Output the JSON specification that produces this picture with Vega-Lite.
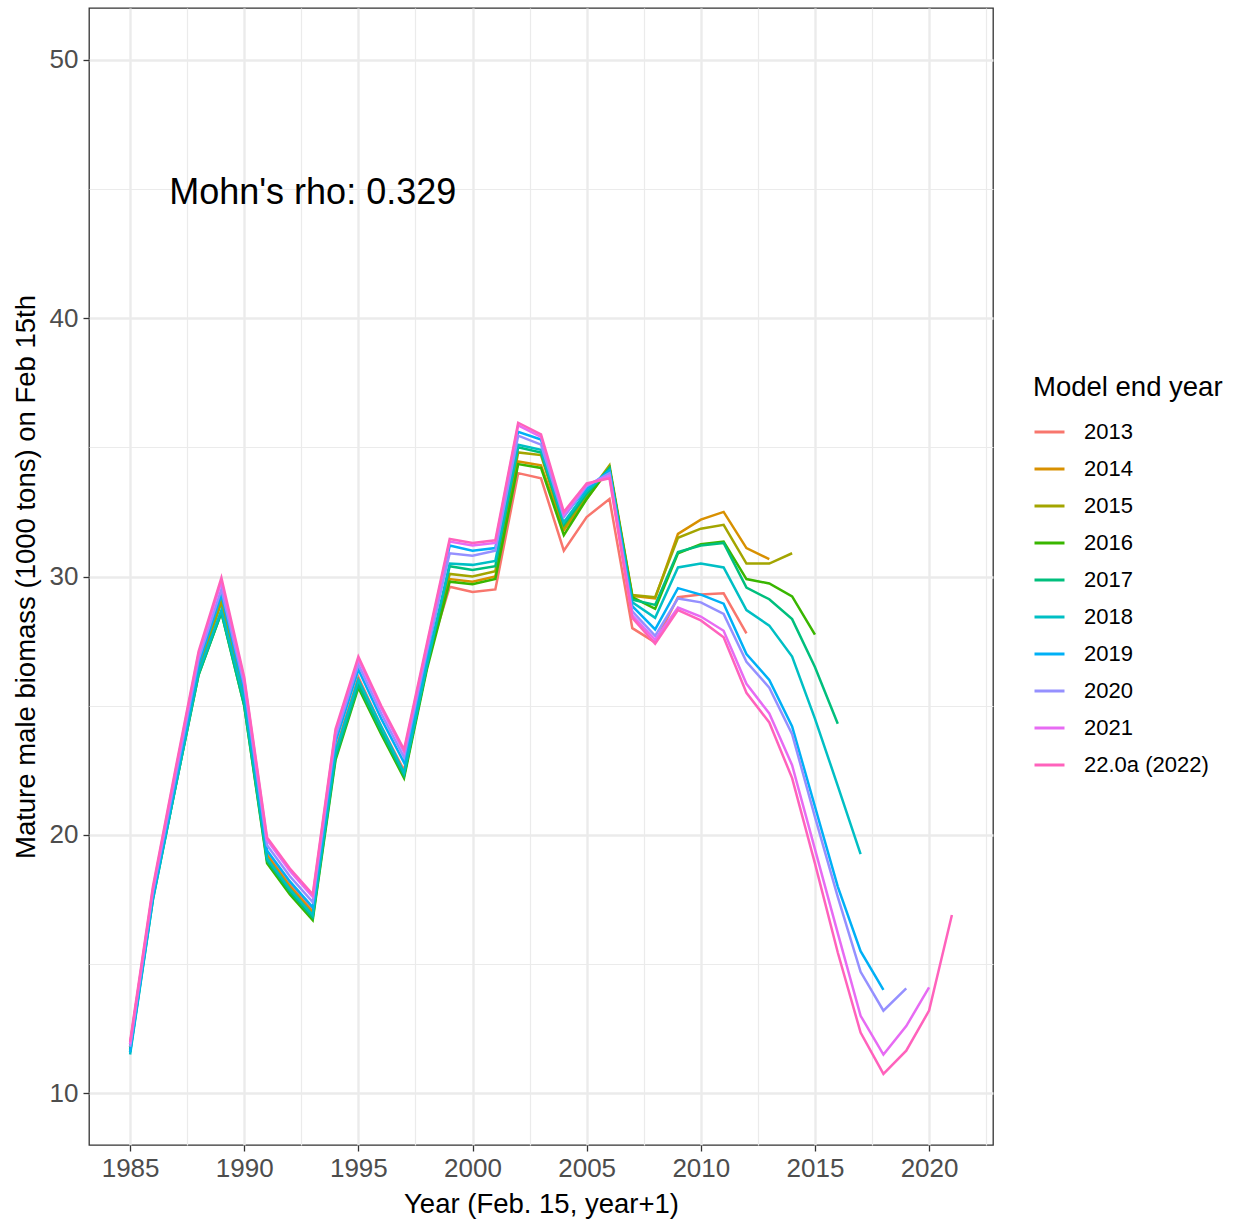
{
  "$schema": "https://vega.github.io/schema/vega-lite/v6.json",
  "width": 904,
  "height": 1137,
  "autosize": {"type": "none"},
  "padding": {"left": 89, "top": 8, "right": 245, "bottom": 76},
  "background": "white",
  "config": {
    "font": "Liberation Sans",
    "view": {"stroke": "#333333", "strokeWidth": 1.3},
    "axis": {
      "domain": false,
      "tickColor": "#333333",
      "tickWidth": 1.3,
      "tickSize": 6,
      "labelColor": "#4D4D4D",
      "labelFont": "Liberation Sans",
      "labelFontSize": 26,
      "titleFont": "Liberation Sans",
      "titleFontSize": 27.5,
      "titleFontWeight": "normal",
      "titleColor": "#000000",
      "gridColor": "#EBEBEB",
      "labelOverlap": false,
      "labelFlush": false
    },
    "legend": {
      "titleFont": "Liberation Sans",
      "labelFont": "Liberation Sans"
    }
  },
  "datasets": {
    "series": [
      {"m":"2013","yr":1985,"b":11.9},{"m":"2013","yr":1986,"b":17.8},{"m":"2013","yr":1987,"b":22.2},{"m":"2013","yr":1988,"b":26.6},{"m":"2013","yr":1989,"b":29.2},{"m":"2013","yr":1990,"b":25.5},{"m":"2013","yr":1991,"b":19.3},{"m":"2013","yr":1992,"b":18.1},{"m":"2013","yr":1993,"b":17.1},{"m":"2013","yr":1994,"b":23.3},{"m":"2013","yr":1995,"b":26.1},{"m":"2013","yr":1996,"b":24.2},{"m":"2013","yr":1997,"b":22.5},{"m":"2013","yr":1998,"b":26.7},{"m":"2013","yr":1999,"b":29.6},{"m":"2013","yr":2000,"b":29.4},{"m":"2013","yr":2001,"b":29.5},{"m":"2013","yr":2002,"b":34.0},{"m":"2013","yr":2003,"b":33.8},{"m":"2013","yr":2004,"b":31.0},{"m":"2013","yr":2005,"b":32.3},{"m":"2013","yr":2006,"b":33.0},{"m":"2013","yr":2007,"b":28.0},{"m":"2013","yr":2008,"b":27.45},{"m":"2013","yr":2009,"b":29.2},{"m":"2013","yr":2010,"b":29.3},{"m":"2013","yr":2011,"b":29.35},{"m":"2013","yr":2012,"b":27.8},
      {"m":"2014","yr":1985,"b":11.8},{"m":"2014","yr":1986,"b":17.7},{"m":"2014","yr":1987,"b":22.1},{"m":"2014","yr":1988,"b":26.5},{"m":"2014","yr":1989,"b":29.1},{"m":"2014","yr":1990,"b":25.4},{"m":"2014","yr":1991,"b":19.2},{"m":"2014","yr":1992,"b":18.0},{"m":"2014","yr":1993,"b":17.0},{"m":"2014","yr":1994,"b":23.2},{"m":"2014","yr":1995,"b":26.0},{"m":"2014","yr":1996,"b":24.1},{"m":"2014","yr":1997,"b":22.4},{"m":"2014","yr":1998,"b":26.6},{"m":"2014","yr":1999,"b":29.9},{"m":"2014","yr":2000,"b":29.8},{"m":"2014","yr":2001,"b":30.0},{"m":"2014","yr":2002,"b":34.45},{"m":"2014","yr":2003,"b":34.3},{"m":"2014","yr":2004,"b":31.8},{"m":"2014","yr":2005,"b":33.0},{"m":"2014","yr":2006,"b":34.2},{"m":"2014","yr":2007,"b":29.25},{"m":"2014","yr":2008,"b":29.15},{"m":"2014","yr":2009,"b":31.65},{"m":"2014","yr":2010,"b":32.2},{"m":"2014","yr":2011,"b":32.5},{"m":"2014","yr":2012,"b":31.1},{"m":"2014","yr":2013,"b":30.67},
      {"m":"2015","yr":1985,"b":11.8},{"m":"2015","yr":1986,"b":17.7},{"m":"2015","yr":1987,"b":22.0},{"m":"2015","yr":1988,"b":26.4},{"m":"2015","yr":1989,"b":29.0},{"m":"2015","yr":1990,"b":25.3},{"m":"2015","yr":1991,"b":19.1},{"m":"2015","yr":1992,"b":17.9},{"m":"2015","yr":1993,"b":16.9},{"m":"2015","yr":1994,"b":23.1},{"m":"2015","yr":1995,"b":25.9},{"m":"2015","yr":1996,"b":24.0},{"m":"2015","yr":1997,"b":22.3},{"m":"2015","yr":1998,"b":26.5},{"m":"2015","yr":1999,"b":30.1},{"m":"2015","yr":2000,"b":30.0},{"m":"2015","yr":2001,"b":30.2},{"m":"2015","yr":2002,"b":34.8},{"m":"2015","yr":2003,"b":34.7},{"m":"2015","yr":2004,"b":31.9},{"m":"2015","yr":2005,"b":33.1},{"m":"2015","yr":2006,"b":34.3},{"m":"2015","yr":2007,"b":29.28},{"m":"2015","yr":2008,"b":29.2},{"m":"2015","yr":2009,"b":31.5},{"m":"2015","yr":2010,"b":31.85},{"m":"2015","yr":2011,"b":32.0},{"m":"2015","yr":2012,"b":30.5},{"m":"2015","yr":2013,"b":30.5},{"m":"2015","yr":2014,"b":30.9},
      {"m":"2016","yr":1985,"b":11.7},{"m":"2016","yr":1986,"b":17.6},{"m":"2016","yr":1987,"b":21.9},{"m":"2016","yr":1988,"b":26.2},{"m":"2016","yr":1989,"b":28.6},{"m":"2016","yr":1990,"b":25.0},{"m":"2016","yr":1991,"b":18.9},{"m":"2016","yr":1992,"b":17.7},{"m":"2016","yr":1993,"b":16.7},{"m":"2016","yr":1994,"b":22.9},{"m":"2016","yr":1995,"b":25.7},{"m":"2016","yr":1996,"b":23.9},{"m":"2016","yr":1997,"b":22.2},{"m":"2016","yr":1998,"b":26.4},{"m":"2016","yr":1999,"b":29.8},{"m":"2016","yr":2000,"b":29.7},{"m":"2016","yr":2001,"b":29.9},{"m":"2016","yr":2002,"b":34.35},{"m":"2016","yr":2003,"b":34.2},{"m":"2016","yr":2004,"b":31.6},{"m":"2016","yr":2005,"b":33.0},{"m":"2016","yr":2006,"b":34.2},{"m":"2016","yr":2007,"b":29.2},{"m":"2016","yr":2008,"b":28.75},{"m":"2016","yr":2009,"b":30.9},{"m":"2016","yr":2010,"b":31.25},{"m":"2016","yr":2011,"b":31.35},{"m":"2016","yr":2012,"b":29.9},{"m":"2016","yr":2013,"b":29.73},{"m":"2016","yr":2014,"b":29.23},{"m":"2016","yr":2015,"b":27.75},
      {"m":"2017","yr":1985,"b":11.6},{"m":"2017","yr":1986,"b":17.5},{"m":"2017","yr":1987,"b":21.9},{"m":"2017","yr":1988,"b":26.2},{"m":"2017","yr":1989,"b":28.6},{"m":"2017","yr":1990,"b":25.0},{"m":"2017","yr":1991,"b":19.0},{"m":"2017","yr":1992,"b":17.8},{"m":"2017","yr":1993,"b":16.8},{"m":"2017","yr":1994,"b":23.0},{"m":"2017","yr":1995,"b":25.8},{"m":"2017","yr":1996,"b":24.0},{"m":"2017","yr":1997,"b":22.3},{"m":"2017","yr":1998,"b":26.5},{"m":"2017","yr":1999,"b":30.4},{"m":"2017","yr":2000,"b":30.25},{"m":"2017","yr":2001,"b":30.4},{"m":"2017","yr":2002,"b":35.0},{"m":"2017","yr":2003,"b":34.8},{"m":"2017","yr":2004,"b":32.0},{"m":"2017","yr":2005,"b":33.2},{"m":"2017","yr":2006,"b":34.2},{"m":"2017","yr":2007,"b":29.1},{"m":"2017","yr":2008,"b":28.9},{"m":"2017","yr":2009,"b":30.95},{"m":"2017","yr":2010,"b":31.2},{"m":"2017","yr":2011,"b":31.3},{"m":"2017","yr":2012,"b":29.57},{"m":"2017","yr":2013,"b":29.12},{"m":"2017","yr":2014,"b":28.35},{"m":"2017","yr":2015,"b":26.5},{"m":"2017","yr":2016,"b":24.3},
      {"m":"2018","yr":1985,"b":11.5},{"m":"2018","yr":1986,"b":17.5},{"m":"2018","yr":1987,"b":21.9},{"m":"2018","yr":1988,"b":26.3},{"m":"2018","yr":1989,"b":28.7},{"m":"2018","yr":1990,"b":25.2},{"m":"2018","yr":1991,"b":19.1},{"m":"2018","yr":1992,"b":17.9},{"m":"2018","yr":1993,"b":16.9},{"m":"2018","yr":1994,"b":23.2},{"m":"2018","yr":1995,"b":26.0},{"m":"2018","yr":1996,"b":24.2},{"m":"2018","yr":1997,"b":22.4},{"m":"2018","yr":1998,"b":26.6},{"m":"2018","yr":1999,"b":30.5},{"m":"2018","yr":2000,"b":30.45},{"m":"2018","yr":2001,"b":30.6},{"m":"2018","yr":2002,"b":35.1},{"m":"2018","yr":2003,"b":34.9},{"m":"2018","yr":2004,"b":32.1},{"m":"2018","yr":2005,"b":33.3},{"m":"2018","yr":2006,"b":34.1},{"m":"2018","yr":2007,"b":29.0},{"m":"2018","yr":2008,"b":28.4},{"m":"2018","yr":2009,"b":30.35},{"m":"2018","yr":2010,"b":30.5},{"m":"2018","yr":2011,"b":30.35},{"m":"2018","yr":2012,"b":28.7},{"m":"2018","yr":2013,"b":28.1},{"m":"2018","yr":2014,"b":26.9},{"m":"2018","yr":2015,"b":24.5},{"m":"2018","yr":2016,"b":21.9},{"m":"2018","yr":2017,"b":19.26},
      {"m":"2019","yr":1985,"b":11.6},{"m":"2019","yr":1986,"b":17.6},{"m":"2019","yr":1987,"b":22.1},{"m":"2019","yr":1988,"b":26.6},{"m":"2019","yr":1989,"b":29.3},{"m":"2019","yr":1990,"b":25.6},{"m":"2019","yr":1991,"b":19.4},{"m":"2019","yr":1992,"b":18.2},{"m":"2019","yr":1993,"b":17.2},{"m":"2019","yr":1994,"b":23.6},{"m":"2019","yr":1995,"b":26.4},{"m":"2019","yr":1996,"b":24.5},{"m":"2019","yr":1997,"b":22.8},{"m":"2019","yr":1998,"b":26.9},{"m":"2019","yr":1999,"b":31.2},{"m":"2019","yr":2000,"b":31.0},{"m":"2019","yr":2001,"b":31.1},{"m":"2019","yr":2002,"b":35.6},{"m":"2019","yr":2003,"b":35.3},{"m":"2019","yr":2004,"b":32.35},{"m":"2019","yr":2005,"b":33.4},{"m":"2019","yr":2006,"b":34.1},{"m":"2019","yr":2007,"b":28.85},{"m":"2019","yr":2008,"b":27.95},{"m":"2019","yr":2009,"b":29.55},{"m":"2019","yr":2010,"b":29.3},{"m":"2019","yr":2011,"b":28.95},{"m":"2019","yr":2012,"b":27.0},{"m":"2019","yr":2013,"b":26.0},{"m":"2019","yr":2014,"b":24.2},{"m":"2019","yr":2015,"b":21.1},{"m":"2019","yr":2016,"b":18.0},{"m":"2019","yr":2017,"b":15.5},{"m":"2019","yr":2018,"b":14.0},
      {"m":"2020","yr":1985,"b":11.8},{"m":"2020","yr":1986,"b":17.8},{"m":"2020","yr":1987,"b":22.3},{"m":"2020","yr":1988,"b":26.8},{"m":"2020","yr":1989,"b":29.5},{"m":"2020","yr":1990,"b":25.8},{"m":"2020","yr":1991,"b":19.6},{"m":"2020","yr":1992,"b":18.4},{"m":"2020","yr":1993,"b":17.4},{"m":"2020","yr":1994,"b":23.8},{"m":"2020","yr":1995,"b":26.6},{"m":"2020","yr":1996,"b":24.7},{"m":"2020","yr":1997,"b":23.0},{"m":"2020","yr":1998,"b":27.1},{"m":"2020","yr":1999,"b":30.9},{"m":"2020","yr":2000,"b":30.8},{"m":"2020","yr":2001,"b":31.0},{"m":"2020","yr":2002,"b":35.45},{"m":"2020","yr":2003,"b":35.1},{"m":"2020","yr":2004,"b":32.3},{"m":"2020","yr":2005,"b":33.5},{"m":"2020","yr":2006,"b":34.0},{"m":"2020","yr":2007,"b":28.65},{"m":"2020","yr":2008,"b":27.7},{"m":"2020","yr":2009,"b":29.15},{"m":"2020","yr":2010,"b":29.0},{"m":"2020","yr":2011,"b":28.55},{"m":"2020","yr":2012,"b":26.7},{"m":"2020","yr":2013,"b":25.7},{"m":"2020","yr":2014,"b":23.9},{"m":"2020","yr":2015,"b":20.7},{"m":"2020","yr":2016,"b":17.6},{"m":"2020","yr":2017,"b":14.7},{"m":"2020","yr":2018,"b":13.2},{"m":"2020","yr":2019,"b":14.06},
      {"m":"2021","yr":1985,"b":11.9},{"m":"2021","yr":1986,"b":17.9},{"m":"2021","yr":1987,"b":22.5},{"m":"2021","yr":1988,"b":27.0},{"m":"2021","yr":1989,"b":29.8},{"m":"2021","yr":1990,"b":26.0},{"m":"2021","yr":1991,"b":19.8},{"m":"2021","yr":1992,"b":18.6},{"m":"2021","yr":1993,"b":17.6},{"m":"2021","yr":1994,"b":24.0},{"m":"2021","yr":1995,"b":26.8},{"m":"2021","yr":1996,"b":24.9},{"m":"2021","yr":1997,"b":23.2},{"m":"2021","yr":1998,"b":27.3},{"m":"2021","yr":1999,"b":31.35},{"m":"2021","yr":2000,"b":31.2},{"m":"2021","yr":2001,"b":31.3},{"m":"2021","yr":2002,"b":35.85},{"m":"2021","yr":2003,"b":35.4},{"m":"2021","yr":2004,"b":32.4},{"m":"2021","yr":2005,"b":33.55},{"m":"2021","yr":2006,"b":33.9},{"m":"2021","yr":2007,"b":28.5},{"m":"2021","yr":2008,"b":27.55},{"m":"2021","yr":2009,"b":28.8},{"m":"2021","yr":2010,"b":28.45},{"m":"2021","yr":2011,"b":27.9},{"m":"2021","yr":2012,"b":25.85},{"m":"2021","yr":2013,"b":24.7},{"m":"2021","yr":2014,"b":22.7},{"m":"2021","yr":2015,"b":19.45},{"m":"2021","yr":2016,"b":16.2},{"m":"2021","yr":2017,"b":13.0},{"m":"2021","yr":2018,"b":11.5},{"m":"2021","yr":2019,"b":12.6},{"m":"2021","yr":2020,"b":14.1},
      {"m":"22.0a (2022)","yr":1985,"b":12.0},{"m":"22.0a (2022)","yr":1986,"b":18.0},{"m":"22.0a (2022)","yr":1987,"b":22.6},{"m":"22.0a (2022)","yr":1988,"b":27.1},{"m":"22.0a (2022)","yr":1989,"b":29.95},{"m":"22.0a (2022)","yr":1990,"b":26.1},{"m":"22.0a (2022)","yr":1991,"b":19.9},{"m":"22.0a (2022)","yr":1992,"b":18.7},{"m":"22.0a (2022)","yr":1993,"b":17.7},{"m":"22.0a (2022)","yr":1994,"b":24.1},{"m":"22.0a (2022)","yr":1995,"b":26.9},{"m":"22.0a (2022)","yr":1996,"b":25.0},{"m":"22.0a (2022)","yr":1997,"b":23.3},{"m":"22.0a (2022)","yr":1998,"b":27.4},{"m":"22.0a (2022)","yr":1999,"b":31.45},{"m":"22.0a (2022)","yr":2000,"b":31.3},{"m":"22.0a (2022)","yr":2001,"b":31.4},{"m":"22.0a (2022)","yr":2002,"b":35.95},{"m":"22.0a (2022)","yr":2003,"b":35.5},{"m":"22.0a (2022)","yr":2004,"b":32.5},{"m":"22.0a (2022)","yr":2005,"b":33.6},{"m":"22.0a (2022)","yr":2006,"b":33.8},{"m":"22.0a (2022)","yr":2007,"b":28.4},{"m":"22.0a (2022)","yr":2008,"b":27.4},{"m":"22.0a (2022)","yr":2009,"b":28.7},{"m":"22.0a (2022)","yr":2010,"b":28.3},{"m":"22.0a (2022)","yr":2011,"b":27.65},{"m":"22.0a (2022)","yr":2012,"b":25.5},{"m":"22.0a (2022)","yr":2013,"b":24.35},{"m":"22.0a (2022)","yr":2014,"b":22.2},{"m":"22.0a (2022)","yr":2015,"b":18.9},{"m":"22.0a (2022)","yr":2016,"b":15.45},{"m":"22.0a (2022)","yr":2017,"b":12.35},{"m":"22.0a (2022)","yr":2018,"b":10.75},{"m":"22.0a (2022)","yr":2019,"b":11.65},{"m":"22.0a (2022)","yr":2020,"b":13.2},{"m":"22.0a (2022)","yr":2021,"b":16.9}
    ],
    "note": [
      {"yr": 1993, "b": 45, "label": "Mohn's rho: 0.329"}
    ]
  },
  "layer": [
    {
      "data": {"name": "series"},
      "mark": {"type": "line", "strokeWidth": 2.5},
      "encoding": {
        "x": {
          "field": "yr",
          "type": "quantitative",
          "scale": {"domain": [1983.2, 2022.8], "nice": false, "zero": false},
          "axis": {
            "title": "Year (Feb. 15, year+1)",
            "values": [1985, 1987.5, 1990, 1992.5, 1995, 1997.5, 2000, 2002.5, 2005, 2007.5, 2010, 2012.5, 2015, 2017.5, 2020, 2022.5],
            "labelExpr": "datum.value % 5 === 0 ? format(datum.value, 'd') : ''",
            "gridWidth": {"condition": {"test": "datum.value % 5 === 0", "value": 2.4}, "value": 1.2},
            "tickOpacity": {"condition": {"test": "datum.value % 5 === 0", "value": 1}, "value": 0},
            "labelPadding": 4,
            "titlePadding": 9
          }
        },
        "y": {
          "field": "b",
          "type": "quantitative",
          "scale": {"domain": [8, 52], "nice": false, "zero": false},
          "axis": {
            "title": "Mature male biomass (1000 tons) on Feb 15th",
            "values": [10, 15, 20, 25, 30, 35, 40, 45, 50],
            "labelExpr": "datum.value % 10 === 0 ? format(datum.value, 'd') : ''",
            "gridWidth": {"condition": {"test": "datum.value % 10 === 0", "value": 2.4}, "value": 1.2},
            "tickOpacity": {"condition": {"test": "datum.value % 10 === 0", "value": 1}, "value": 0},
            "labelPadding": 5,
            "titlePadding": 9
          }
        },
        "color": {
          "field": "m",
          "type": "nominal",
          "scale": {
            "domain": ["2013", "2014", "2015", "2016", "2017", "2018", "2019", "2020", "2021", "22.0a (2022)"],
            "range": ["#F8766D", "#D89000", "#A3A500", "#39B600", "#00BF7D", "#00BFC4", "#00B0F6", "#9590FF", "#E76BF3", "#FF62BC"]
          },
          "legend": {
            "title": "Model end year",
            "orient": "none",
            "legendX": 944,
            "legendY": 366,
            "titleFontSize": 27.5,
            "titleFontWeight": "normal",
            "titleColor": "#000000",
            "titleLimit": 400,
            "titlePadding": 14,
            "labelFontSize": 22,
            "labelColor": "#000000",
            "labelLimit": 300,
            "labelOffset": 18,
            "symbolType": "stroke",
            "symbolSize": 900,
            "symbolStrokeWidth": 3,
            "rowPadding": 9
          }
        }
      }
    },
    {
      "data": {"name": "note"},
      "mark": {"type": "text", "fontSize": 36, "font": "Liberation Sans", "color": "#000000", "align": "center", "baseline": "middle", "dy": 4},
      "encoding": {
        "x": {"field": "yr", "type": "quantitative"},
        "y": {"field": "b", "type": "quantitative"},
        "text": {"field": "label"}
      }
    }
  ]
}
